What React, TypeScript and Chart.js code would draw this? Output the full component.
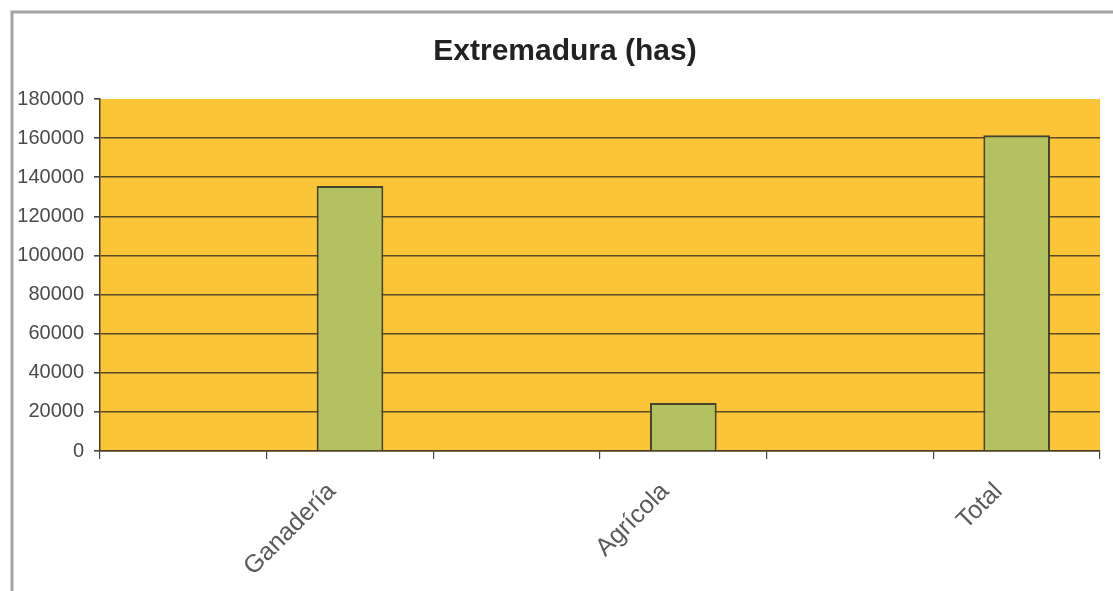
import React, { useEffect, useRef } from "react";
import { Chart, registerables } from "chart.js";

Chart.register(...registerables);

const title = "Extremadura (has)";
const categories = ["", "Ganadería", "", "Agrícola", "", "Total"];
const values: (number | null)[] = [null, 135500, null, 24500, null, 161500];
const yMin = 0;
const yMax = 180000;
const yStep = 20000;

const W = 1113;
const H = 591;
const PLOT_LEFT = 100;
const PLOT_TOP = 99;
const PLOT_RIGHT = 1100;
const PLOT_BOTTOM = 451;

const frameAndTitle = {
  id: "frameAndTitle",
  beforeDraw(chart: any) {
    const { ctx, chartArea } = chart;
    ctx.save();
    ctx.fillStyle = "#ffffff";
    ctx.fillRect(0, 0, chart.width, chart.height);
    ctx.fillStyle = "#fbc537";
    ctx.fillRect(chartArea.left, chartArea.top, chartArea.right - chartArea.left, chartArea.bottom - chartArea.top);
    ctx.strokeStyle = "#a7a4a4";
    ctx.lineWidth = 3;
    ctx.beginPath();
    ctx.moveTo(12, chart.height);
    ctx.lineTo(12, 12);
    ctx.lineTo(chart.width, 12);
    ctx.stroke();
    ctx.fillStyle = "#222222";
    ctx.font = "bold 30px 'Liberation Sans', Arial, sans-serif";
    ctx.textAlign = "center";
    ctx.textBaseline = "alphabetic";
    ctx.fillText(title, 565, 60);
    ctx.restore();
  },
};

export default function App() {
  const ref = useRef<HTMLCanvasElement | null>(null);
  useEffect(() => {
    document.body.style.margin = "0";
    const canvas = ref.current;
    if (!canvas) return;
    const chart = new Chart(canvas, {
      type: "bar",
      data: {
        labels: categories,
        datasets: [
          {
            data: values,
            backgroundColor: "#b4c160",
            borderColor: "#45452f",
            borderWidth: 2,
            barPercentage: 0.4,
            categoryPercentage: 1,
          },
        ],
      },
      options: {
        responsive: false,
        animation: false,
        layout: { padding: { left: 0, top: PLOT_TOP, right: W - PLOT_RIGHT, bottom: 0 } },
        plugins: {
          legend: { display: false },
          title: { display: false },
          tooltip: { enabled: false },
        },
        scales: {
          x: {
            offset: true,
            grid: {
              offset: true,
              drawOnChartArea: false,
              drawTicks: true,
              tickLength: 8,
              color: "#444444",
              lineWidth: 1.2,
            },
            border: { display: true, color: "#4a3f25", width: 1.5 },
            ticks: {
              autoSkip: false,
              maxRotation: 45,
              minRotation: 45,
              color: "#5a5a5a",
              padding: 18,
              labelOffset: -18,
              font: { family: "'Liberation Sans', Arial, sans-serif", size: 25 },
            },
            afterFit(scale: any) {
              scale.height = H - PLOT_BOTTOM;
            },
          },
          y: {
            min: yMin,
            max: yMax,
            ticks: {
              stepSize: yStep,
              color: "#4a4a4a",
              padding: 10,
              callback: (v: any) => String(v),
              font: { family: "'Liberation Sans', Arial, sans-serif", size: 20 },
            },
            grid: {
              color: (c: any) => (c.tick && c.tick.value === yMax ? "rgba(0,0,0,0)" : "#5a4a26"),
              lineWidth: 1.6,
              tickLength: 6,
              tickColor: "#444444",
            } as any,
            border: { display: true, color: "#4a3f25", width: 1.5 },
            afterFit(scale: any) {
              scale.width = PLOT_LEFT;
            },
          },
        },
      },
      plugins: [frameAndTitle],
    });
    return () => chart.destroy();
  }, []);
  return <canvas ref={ref} width={W} height={H} style={{ display: "block", width: W, height: H }} />;
}
